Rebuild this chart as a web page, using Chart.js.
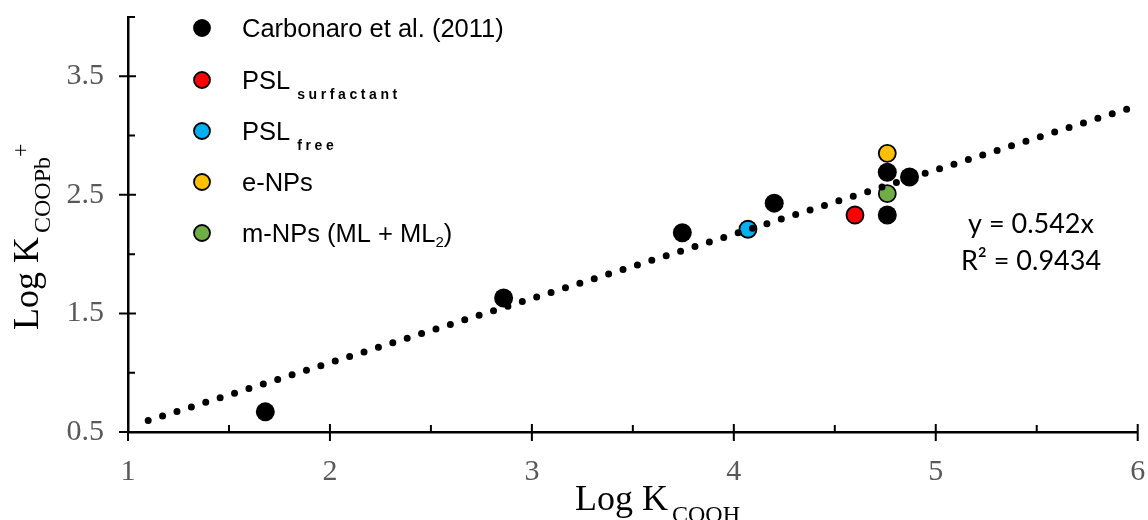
<!DOCTYPE html>
<html>
<head>
<meta charset="utf-8">
<script src="https://cdn.jsdelivr.net/npm/chart.js@4.4.0/dist/chart.umd.min.js"></script>
<style>
  html, body { margin: 0; padding: 0; background: #fff; }
  #wrap { width: 1148px; height: 520px; position: relative; }
</style>
</head>
<body>
<div id="wrap"><canvas id="chart"></canvas></div>
<script>
// Datos
const carbonaroX = [1.68, 2.86, 3.745, 4.2, 4.76, 4.76, 4.87];
const carbonaroY = [0.67, 1.63, 2.18, 2.43, 2.33, 2.69, 2.65];
const pslSurfX = [4.6];
const pslSurfY = [2.33];
const pslFreeX = [4.07];
const pslFreeY = [2.21];
const eNPsX = [4.76];
const eNPsY = [2.85];
const mNPsX = [4.76];
const mNPsY = [2.51];
// Línea de tendencia y = 0.542x (extremos)
const trendX = [1.1, 6];
const trendY = [0.596, 3.252];

// Marcas de los ejes
const xTicks = [1, 2, 3, 4, 5, 6];
const xMinorTicks = [1.5, 2.5, 3.5, 4.5, 5.5];
const yTicks = [0.5, 1.5, 2.5, 3.5];
const yMinorTicks = [1, 2, 3, 4];

const trendText = ["y = 0.542x", "R² = 0.9434"];

const SERIF = "'Liberation Serif', 'Times New Roman', serif";
const SANS = "'Liberation Sans', Arial, sans-serif";

const toPoints = (xs, ys) => xs.map((x, i) => ({ x, y: ys[i] }));

// Dibuja texto con partes (subíndices / superíndices)
function drawParts(ctx, parts, x, y) {
    let cx = x;
    parts.forEach(p => {
        ctx.font = p.font;
        ctx.fillText(p.text, cx, y + (p.dy || 0));
        cx += ctx.measureText(p.text).width + (p.gap || 0);
    });
}

// Texto con espaciado entre letras
function drawSpaced(ctx, text, x, y, spacing) {
    let cx = x;
    for (const ch of text) {
        ctx.fillText(ch, cx, y);
        cx += ctx.measureText(ch).width + spacing;
    }
    return cx;
}

const legendItems = [
    { color: "#000000", parts: [{ text: "Carbonaro et al. (2011)" }] },
    { color: "#FF0000", parts: [{ text: "PSL" }], sub: "surfactant" },
    { color: "#00B0F0", parts: [{ text: "PSL" }], sub: "free" },
    { color: "#FFC000", parts: [{ text: "e-NPs" }] },
    { color: "#70AD47", parts: [{ text: "m-NPs (ML + ML" }, { text: "2", small: true }, { text: ")" }] }
];

const decorPlugin = {
    id: "decor",
    afterDraw(chart) {
        const { ctx, chartArea, scales: { x, y } } = chart;
        const left = chartArea.left, bottom = chartArea.bottom;
        ctx.save();

        // marcas de los ejes
        ctx.strokeStyle = "#000";
        ctx.lineWidth = 2;
        ctx.beginPath();
        xTicks.forEach(v => {
            const px = x.getPixelForValue(v);
            ctx.moveTo(px, bottom - 8); ctx.lineTo(px, bottom + 9);
        });
        xMinorTicks.forEach(v => {
            const px = x.getPixelForValue(v);
            ctx.moveTo(px, bottom - 7); ctx.lineTo(px, bottom);
        });
        yTicks.forEach(v => {
            const py = y.getPixelForValue(v);
            ctx.moveTo(left - 9, py); ctx.lineTo(left + 8, py);
        });
        yMinorTicks.forEach(v => {
            const py = y.getPixelForValue(v);
            ctx.moveTo(left, py); ctx.lineTo(left + 7, py);
        });
        ctx.stroke();

        // títulos de los ejes
        ctx.fillStyle = "#000";
        ctx.textAlign = "left";
        ctx.textBaseline = "alphabetic";
        drawParts(ctx, [
            { text: "Log K", font: "36px " + SERIF, gap: 4 },
            { text: "COOH", font: "24px " + SERIF, dy: 12 }
        ], 575, 510);

        ctx.save();
        ctx.translate(38, 330);
        ctx.rotate(-Math.PI / 2);
        drawParts(ctx, [
            { text: "Log K", font: "36px " + SERIF, gap: 4 },
            { text: "COOPb", font: "24px " + SERIF, dy: 12 },
            { text: "+", font: "24px " + SERIF, dy: -10 }
        ], 0, 0);
        ctx.restore();

        // leyenda
        const rowY = [28, 80, 131, 182, 233];
        legendItems.forEach((item, i) => {
            const cy = rowY[i];
            ctx.beginPath();
            ctx.arc(202, cy, 8, 0, Math.PI * 2);
            ctx.fillStyle = item.color;
            ctx.fill();
            ctx.lineWidth = 1.8;
            ctx.strokeStyle = "#000";
            ctx.stroke();

            ctx.fillStyle = "#000";
            let cx = 242;
            const base = cy + 9;
            item.parts.forEach(p => {
                ctx.font = (p.small ? "15px " : "25.5px ") + SANS;
                ctx.fillText(p.text, cx, p.small ? base + 5 : base);
                cx += ctx.measureText(p.text).width;
            });
            if (item.sub) {
                ctx.font = "bold 14px " + SANS;
                drawSpaced(ctx, item.sub, cx + 7, base + 10, 3.6);
            }
        });

        // ecuación de la tendencia
        ctx.font = "27px Lato, " + SANS;
        ctx.textAlign = "center";
        ctx.textBaseline = "middle";
        ctx.fillText(trendText[0], 1031, 224);
        ctx.fillText(trendText[1], 1031, 261);

        ctx.restore();
    }
};

const ctx = document.getElementById("chart").getContext("2d");
new Chart(ctx, {
    type: "scatter",
    data: {
        datasets: [
            {
                label: "Tendencia",
                data: toPoints(trendX, trendY),
                showLine: true,
                pointRadius: 0,
                borderColor: "#000",
                borderWidth: 7,
                borderDash: [0, 15.1],
                borderCapStyle: "round",
                clip: false,
                order: 0
            },
            {
                label: "Carbonaro et al. (2011)",
                data: toPoints(carbonaroX, carbonaroY),
                pointRadius: 9.5,
                pointBackgroundColor: "#000",
                pointBorderWidth: 0,
                clip: false,
                order: 1
            },
            {
                label: "PSL surfactant",
                data: toPoints(pslSurfX, pslSurfY),
                pointRadius: 8.5,
                pointBackgroundColor: "#FF0000",
                pointBorderColor: "#000",
                pointBorderWidth: 1.8,
                clip: false,
                order: 1
            },
            {
                label: "PSL free",
                data: toPoints(pslFreeX, pslFreeY),
                pointRadius: 8.5,
                pointBackgroundColor: "#00B0F0",
                pointBorderColor: "#000",
                pointBorderWidth: 1.8,
                clip: false,
                order: 1
            },
            {
                label: "e-NPs",
                data: toPoints(eNPsX, eNPsY),
                pointRadius: 8.5,
                pointBackgroundColor: "#FFC000",
                pointBorderColor: "#000",
                pointBorderWidth: 1.8,
                clip: false,
                order: 1
            },
            {
                label: "m-NPs (ML + ML2)",
                data: toPoints(mNPsX, mNPsY),
                pointRadius: 8.5,
                pointBackgroundColor: "#70AD47",
                pointBorderColor: "#000",
                pointBorderWidth: 1.8,
                clip: false,
                order: 1
            }
        ]
    },
    options: {
        responsive: true,
        maintainAspectRatio: false,
        animation: false,
        events: [],
        layout: { padding: { top: 17, right: 10, left: 0, bottom: 0 } },
        plugins: {
            legend: { display: false },
            tooltip: { enabled: false }
        },
        scales: {
            x: {
                type: "linear",
                min: 1,
                max: 6,
                afterBuildTicks: scale => { scale.ticks = xTicks.map(v => ({ value: v })); },
                afterFit: scale => {
                    scale.height = 88;
                    scale.paddingLeft = 0;
                    scale.paddingRight = 0;
                },
                grid: { display: false, drawTicks: false },
                border: { display: true, color: "#000", width: 2.5 },
                ticks: {
                    color: "#595959",
                    padding: 22,
                    maxRotation: 0,
                    font: { family: SERIF, size: 30 },
                    callback: v => String(v)
                }
            },
            y: {
                type: "linear",
                min: 0.5,
                max: 4,
                afterBuildTicks: scale => { scale.ticks = yTicks.map(v => ({ value: v })); },
                afterFit: scale => {
                    scale.width = 128;
                    scale.paddingTop = 0;
                    scale.paddingBottom = 0;
                },
                grid: { display: false, drawTicks: false },
                border: { display: true, color: "#000", width: 2.5 },
                ticks: {
                    color: "#595959",
                    padding: 24,
                    font: { family: SERIF, size: 30 },
                    callback: v => v.toFixed(1)
                }
            }
        }
    },
    plugins: [decorPlugin]
});
</script>
</body>
</html>
